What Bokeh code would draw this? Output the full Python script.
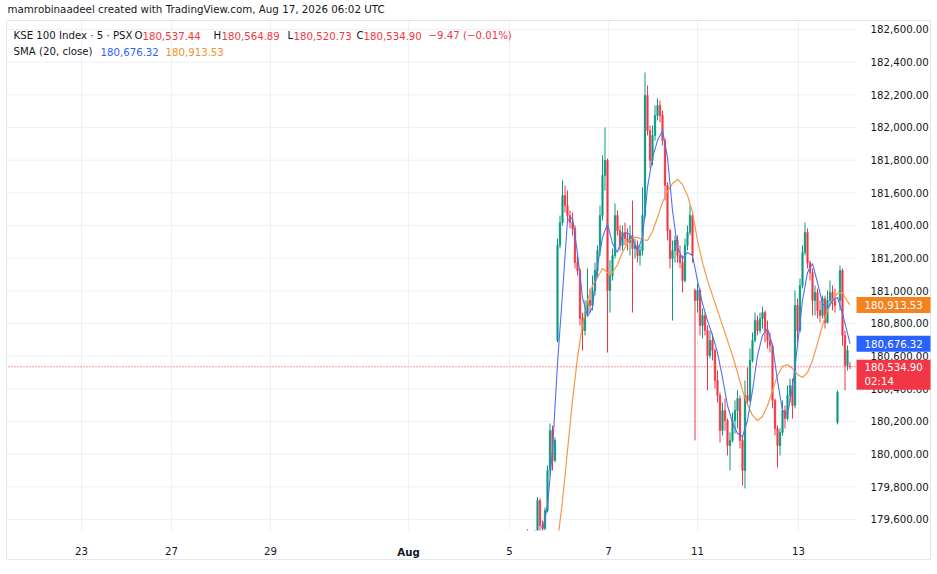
from bokeh.plotting import figure
from bokeh.models import Range1d, FixedTicker, NumeralTickFormatter, LinearAxis, ColumnDataSource
from bokeh.core.properties import value
from bokeh.embed import file_html
from bokeh.resources import INLINE

# ---------------- data (5-minute bars, condensed) ----------------
bars = list(range(130))
opens = [179512, 179525, 179490, 179470, 179530, 179716, 179563, 179545, 179655, 179900,
         180145, 179961, 180696, 181278, 181418, 181584, 181522, 181461, 181418, 181382,
         181173, 181124, 180831, 180757, 180867, 180941, 180910, 181002, 181124, 181247,
         181461, 181706, 181798, 181002, 181094, 181216, 181461, 181369, 181278, 181357,
         181320, 181296, 181339, 181259, 181278, 181216, 181247, 181461, 182196, 181982,
         181798, 181951, 182073, 182135, 182073, 181920, 181645, 181369, 181198, 181247,
         181308, 181216, 181173, 181063, 181278, 181357, 181461, 181002, 180941, 181002,
         180788, 180849, 180757, 180604, 180696, 180635, 180451, 180359, 180145, 180267,
         180206, 180053, 180084, 180206, 180267, 180341, 180084, 179900, 180359, 180329,
         180573, 180696, 180818, 180757, 180831, 180867, 180757, 180696, 180665, 180329,
         180157, 180053, 180133, 180267, 180218, 180359, 180420, 180298, 180910, 180757,
         181033, 181235, 181357, 181173, 181112, 180941, 180990, 180880, 180849, 180953,
         180806, 180941, 180990, 180941, 180194, 180941, 181124, 180727, 180543, 180537.44]
highs = [179540, 179528, 179495, 179535, 179735, 179729, 179594, 179673, 179931, 180188,
         180175, 180102, 181320, 181461, 181676, 181645, 181614, 181492, 181480, 181400,
         181216, 181137, 180867, 180941, 181137, 181014, 181094, 181173, 181278, 181522,
         181829, 182000, 181810, 181186, 181259, 181535, 181492, 181400, 181400, 181418,
         181382, 181400, 181553, 181320, 181308, 181278, 181633, 182337, 182257, 182012,
         182012, 182135, 182178, 182165, 182104, 181933, 181663, 181382, 181308, 181339,
         181339, 181278, 181216, 181320, 181400, 181522, 181480, 181014, 181045, 181014,
         180892, 180867, 180788, 180757, 180739, 180647, 180512, 180378, 180316, 180341,
         180218, 180133, 180255, 180329, 180390, 180359, 180114, 180451, 180531, 180647,
         180745, 180867, 180849, 180867, 180904, 180880, 180818, 180745, 180678, 180341,
         180175, 180157, 180329, 180298, 180420, 180463, 180463, 181002, 180953, 181075,
         181278, 181418, 181382, 181186, 181137, 181033, 181014, 180941, 180971, 180971,
         181002, 181063, 181033, 181014, 180390, 181155, 181137, 180757, 180665, 180564.89]
lows = [179505, 179480, 179460, 179465, 179520, 179520, 179520, 179533, 179643, 179869,
        179900, 179949, 180684, 181259, 181400, 181480, 181431, 181382, 181339, 181137,
        181094, 180788, 180635, 180727, 180849, 180867, 180880, 180971, 181075, 181216,
        181431, 181614, 180622, 180867, 181063, 181198, 181339, 181247, 181247, 181278,
        181247, 181216, 180867, 181198, 181173, 181155, 181216, 181443, 181951, 181749,
        181767, 181920, 182043, 182031, 181890, 181553, 181308, 181137, 180818, 181173,
        181173, 181137, 180990, 181051, 181247, 181339, 181173, 180084, 180867, 180727,
        180708, 180727, 180390, 180586, 180573, 180402, 180316, 180071, 180114, 180145,
        179992, 179900, 180071, 180126, 180157, 180035, 179808, 179790, 180298, 180316,
        180561, 180684, 180727, 180739, 180769, 180684, 180647, 180622, 180280, 180114,
        179918, 179992, 180114, 180157, 180206, 180316, 180218, 180280, 180684, 180745,
        181014, 181216, 181137, 181063, 180849, 180849, 180831, 180806, 180831, 180769,
        180800, 180910, 180880, 180867, 180182, 180880, 180665, 180390, 180512, 180520.73]
closes = [179525, 179490, 179470, 179530, 179716, 179563, 179545, 179655, 179900, 180145,
          179961, 180084, 181278, 181418, 181584, 181522, 181461, 181418, 181382, 181173,
          181124, 180831, 180757, 180867, 180941, 180910, 181002, 181124, 181247, 181461,
          181706, 181798, 181002, 181094, 181216, 181461, 181369, 181278, 181357, 181320,
          181296, 181339, 181259, 181278, 181216, 181247, 181461, 182196, 181982, 181798,
          181951, 182073, 182135, 182073, 181920, 181645, 181369, 181198, 181247, 181308,
          181216, 181173, 181063, 181278, 181357, 181461, 181216, 180941, 181002, 180788,
          180849, 180757, 180604, 180696, 180635, 180451, 180359, 180145, 180267, 180206,
          180053, 180084, 180206, 180267, 180341, 180084, 179900, 180359, 180329, 180573,
          180696, 180818, 180757, 180831, 180867, 180757, 180696, 180665, 180329, 180157,
          180053, 180133, 180267, 180218, 180359, 180420, 180298, 180910, 180757, 181033,
          181235, 181357, 181173, 181112, 180941, 180990, 180880, 180849, 180953, 180806,
          180941, 180990, 180941, 180910, 180378, 181124, 180727, 180543, 180635, 180534.90]

sma_bar = list(range(0, 130, 2)) + [129]
sma_fast = [179350, 179400, 179470, 179533, 179686, 180022, 180555, 180984, 181431, 181449,
            181229, 180959, 180843, 180898, 181155, 181327, 181412, 181290, 181235, 181339,
            181357, 181320, 181247, 181327, 181633, 181816, 181920, 181982, 181816, 181492,
            181265, 181198, 181235, 181216, 181063, 180922, 180818, 180727, 180622, 180469,
            180298, 180194, 180126, 180108, 180206, 180390, 180604, 180727, 180769, 180665,
            180451, 180267, 180245, 180408, 180665, 180941, 181112, 181167, 181051, 180922,
            180892, 180941, 180959, 180861, 180739, 180676.32]
sma_slow = [179150, 179200, 179250, 179300, 179350, 179400, 179460, 179716, 180022, 180329,
            180592, 180788, 180941, 181033, 181082, 181137, 181112, 181112, 181161, 181235,
            181296, 181327, 181327, 181314, 181308, 181363, 181449, 181541, 181608, 181657,
            181682, 181651, 181584, 181480, 181308, 181173, 181063, 180971, 180880, 180788,
            180696, 180604, 180500, 180390, 180304, 180237, 180206, 180231, 180298, 180390,
            180482, 180537, 180549, 180524, 180488, 180469, 180500, 180573, 180678, 180788,
            180880, 180941, 180984, 180990, 180935, 180913.53]

price_ticks = [179600, 179800, 180000, 180200, 180400, 180600, 180800, 181000,
               181200, 181400, 181600, 181800, 182000, 182200, 182400, 182600]
date_tick_pos = [-178.4, -142.4, -102.8, -47.6, -7.2, 32.4, 68.0, 108.4]
date_tick_labels = ["23", "27", "29", "Aug", "5", "7", "11", "13"]
change_text = "\u22129.47 (\u22120.01%)"
countdown = "02:14"

# ---------------- layout helpers (canvas = frame) ----------------
W, H = 937, 574
X0, X1 = -210.8, 164.0          # bar-index range across the canvas
Y0, Y1 = 179263.2, 182777.5     # price range across the canvas
def px2x(px):
    return X0 + px * (X1 - X0) / W
def py2y(py):
    return Y1 - py * (Y1 - Y0) / H
PX_PER_Y = H / (Y1 - Y0)

GREEN = "#089981"
RED = "#F23645"
BLUE = "#2962FF"
ORANGE = "#F5821F"
DARK = "#131722"
GRID = "#EDF0F4"
FONT = "DejaVu Sans"
FS = "10.2px"

p = figure(width=W, height=H, output_backend="svg", toolbar_location=None, title=None,
           x_range=Range1d(X0, X1), y_range=Range1d(Y0, Y1),
           x_axis_location=None, y_axis_location=None,
           min_border=0, min_border_left=0, min_border_right=0,
           min_border_top=0, min_border_bottom=0)
p.outline_line_color = None
p.background_fill_color = "white"
p.border_fill_color = "white"
p.grid.visible = False

# plot box and grid (drawn from the tick arrays)
plot_left, plot_right = px2x(6), px2x(856)
plot_top, plot_bottom = py2y(20), py2y(530)
p.segment(x0=[plot_left] * len(price_ticks), x1=[plot_right] * len(price_ticks),
          y0=price_ticks, y1=price_ticks, line_color=GRID, line_width=1)
p.segment(x0=date_tick_pos, x1=date_tick_pos, y0=[plot_bottom] * len(date_tick_pos),
          y1=[plot_top] * len(date_tick_pos), line_color=GRID, line_width=1)

# candles
colors = [GREEN if c >= o else RED for o, c in zip(opens, closes)]
src = ColumnDataSource(dict(x=bars, h=highs, l=lows,
                            top=[max(o, c) for o, c in zip(opens, closes)],
                            bottom=[min(o, c) for o, c in zip(opens, closes)],
                            color=colors))
p.segment(x0="x", y0="h", x1="x", y1="l", line_color="color", line_width=1, source=src)
p.vbar(x="x", width=0.62, top="top", bottom="bottom", fill_color="color",
       line_color="color", line_width=0.5, source=src)

# moving averages
p.line(sma_bar, sma_slow, line_color="#F39A4A", line_width=1.2)
p.line(sma_bar, sma_fast, line_color="#4C72F0", line_width=1.1)

# mask below the price pane (time-axis strip)
p.quad(left=[X0], right=[X1], top=[plot_bottom], bottom=[Y0], fill_color="white", line_color=None)

# last price dotted line
p.segment(x0=[px2x(8)], x1=[plot_right], y0=[closes[-1]], y1=[closes[-1]],
          line_color=RED, line_dash="1 2", line_width=1)

# outer frame of the snapshot
p.quad(left=[px2x(6)], right=[px2x(930)], top=[plot_top], bottom=[py2y(559)],
       fill_color=None, line_color="#E3E6EC", line_width=1)

# ---------------- axes ----------------
yax = LinearAxis(fixed_location=plot_right, ticker=FixedTicker(ticks=price_ticks),
                 formatter=NumeralTickFormatter(format="0,0.00"))
yax.axis_line_color = None
yax.major_tick_line_color = None
yax.minor_tick_line_color = None
yax.major_label_standoff = 8
yax.major_label_text_font = FONT
yax.major_label_text_font_size = FS
yax.major_label_text_color = DARK
p.add_layout(yax, "right")

xax = LinearAxis(fixed_location=plot_bottom, ticker=FixedTicker(ticks=date_tick_pos))
xax.major_label_overrides = {pos: ("" if lab == "Aug" else lab)
                             for pos, lab in zip(date_tick_pos, date_tick_labels)}
for ax in (xax,):
    ax.axis_line_color = None
    ax.major_tick_line_color = None
    ax.minor_tick_line_color = None
    ax.major_label_standoff = 10
    ax.major_label_text_font = FONT
    ax.major_label_text_font_size = FS
    ax.major_label_text_color = DARK
p.add_layout(xax, "below")

aug_pos = [pos for pos, lab in zip(date_tick_pos, date_tick_labels) if lab == "Aug"]
xax2 = LinearAxis(fixed_location=plot_bottom, ticker=FixedTicker(ticks=aug_pos))
xax2.major_label_overrides = {aug_pos[0]: "Aug"}
xax2.axis_line_color = None
xax2.major_tick_line_color = None
xax2.minor_tick_line_color = None
xax2.major_label_standoff = 10
xax2.major_label_text_font = FONT
xax2.major_label_text_font_size = FS
xax2.major_label_text_font_style = "bold"
xax2.major_label_text_color = DARK
p.add_layout(xax2, "below")

# ---------------- texts ----------------
def put_text(items, py, size=FS):
    for t, px, c in items:
        p.text(x=[px2x(px)], y=[py2y(py)], text=[t], text_color=c, text_font=value(FONT),
               text_font_size=size, text_baseline="middle", text_align="left")

put_text([("mamrobinaadeel created with TradingView.com, Aug 17, 2026 06:02 UTC", 7, DARK)], 8, "10.3px")

fmt = lambda v: f"{v:,.2f}"
put_text([("KSE 100 Index \u00b7 5 \u00b7 PSX", 13, DARK), ("O", 134, DARK), (fmt(opens[-1]), 142, RED),
          ("H", 213, DARK), (fmt(highs[-1]), 221, RED), ("L", 287, DARK), (fmt(lows[-1]), 293, RED),
          ("C", 356, DARK), (fmt(closes[-1]), 363, RED), (change_text, 428, RED)], 35)
put_text([("SMA (20, close)", 13, DARK), (fmt(sma_fast[-1]), 100, BLUE),
          (fmt(sma_slow[-1]), 165, "#F0922E")], 51)

# ---------------- price badges on the scale ----------------
def badge(lines, price, color, above_px, below_px):
    r = p.quad(left=[px2x(856)], right=[px2x(930)], top=[price + above_px / PX_PER_Y],
               bottom=[price - below_px / PX_PER_Y], fill_color=color, line_color=None)
    r.level = "overlay"
    for k, t in enumerate(lines):
        rt = p.text(x=[px2x(864)], y=[price - 15 * k / PX_PER_Y], text=[t], text_color="white",
                    text_font=value(FONT), text_font_size=FS, text_baseline="middle",
                    text_align="left")
        rt.level = "overlay"

badge([fmt(sma_slow[-1])], sma_slow[-1], ORANGE, 8, 8)
badge([fmt(sma_fast[-1])], sma_fast[-1], BLUE, 8, 8)
badge([fmt(closes[-1]), countdown], closes[-1], RED, 7, 23)

open("out.html", "w").write(file_html(p, INLINE))
